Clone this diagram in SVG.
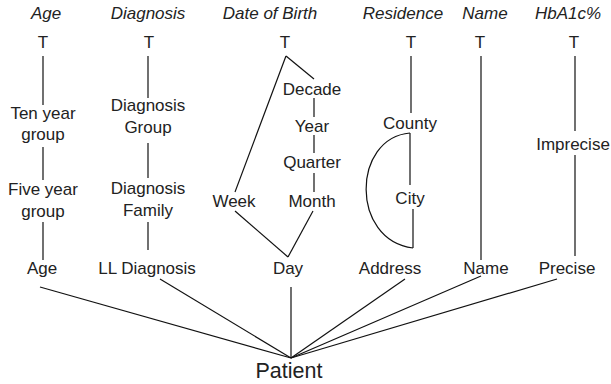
<svg xmlns="http://www.w3.org/2000/svg" width="611" height="384" viewBox="0 0 611 384">
<style>
text{font-family:"Liberation Sans",Arial,sans-serif;font-size:17px;fill:#222;text-anchor:middle}
.h{font-style:italic}
.p{font-size:21.5px}
.c line,.c path{stroke:#111;stroke-width:1.2;fill:none}
</style>
<rect width="611" height="384" fill="#fff"/>
<g id="headers">
<text class="h" x="46" y="19">Age</text>
<text class="h" x="148" y="19">Diagnosis</text>
<text class="h" x="270" y="19">Date of Birth</text>
<text class="h" x="403" y="19">Residence</text>
<text class="h" x="485" y="19">Name</text>
<text class="h" x="568" y="19">HbA1c%</text>
</g>
<g id="t-age"><text x="43" y="48">T</text></g>
<g id="t-diagnosis"><text x="149" y="48">T</text></g>
<g id="t-dob"><text x="285" y="48">T</text></g>
<g id="t-residence"><text x="411" y="48">T</text></g>
<g id="t-name"><text x="480" y="48">T</text></g>
<g id="t-hba1c"><text x="574" y="48">T</text></g>
<g id="ten-year-group"><text x="43" y="119">Ten year</text><text x="43" y="140">group</text></g>
<g id="five-year-group"><text x="43" y="195">Five year</text><text x="43" y="217">group</text></g>
<g id="age"><text x="42" y="274">Age</text></g>
<g id="diagnosis-group"><text x="148" y="111">Diagnosis</text><text x="148" y="133">Group</text></g>
<g id="diagnosis-family"><text x="148" y="194">Diagnosis</text><text x="148" y="216">Family</text></g>
<g id="ll-diagnosis"><text x="147" y="274">LL Diagnosis</text></g>
<g id="decade"><text x="312" y="95">Decade</text></g>
<g id="year"><text x="312" y="132">Year</text></g>
<g id="quarter"><text x="312" y="168">Quarter</text></g>
<g id="month"><text x="312" y="207">Month</text></g>
<g id="week"><text x="234" y="207">Week</text></g>
<g id="day"><text x="288" y="274">Day</text></g>
<g id="county"><text x="410" y="129">County</text></g>
<g id="city"><text x="410" y="204">City</text></g>
<g id="address"><text x="390" y="274">Address</text></g>
<g id="name"><text x="486" y="274">Name</text></g>
<g id="imprecise"><text x="573" y="150">Imprecise</text></g>
<g id="precise"><text x="567" y="274">Precise</text></g>
<g id="patient"><text class="p" x="289" y="378">Patient</text></g>
<g id="connectors" class="c">
<line x1="43" y1="56" x2="43" y2="105"/>
<line x1="43" y1="147" x2="43" y2="180"/>
<line x1="43" y1="222" x2="43" y2="260"/>
<line x1="148" y1="56" x2="148" y2="98"/>
<line x1="148" y1="143" x2="148" y2="178"/>
<line x1="148" y1="222" x2="148" y2="250"/>
<line x1="286" y1="56" x2="314" y2="79"/>
<line x1="286" y1="56" x2="235" y2="192"/>
<line x1="314" y1="98" x2="314" y2="117"/>
<line x1="314" y1="135" x2="314" y2="153"/>
<line x1="314" y1="173" x2="314" y2="192"/>
<line x1="235" y1="211" x2="288" y2="257"/>
<line x1="313" y1="211" x2="288" y2="257"/>
<line x1="411" y1="56" x2="411" y2="113"/>
<line x1="410" y1="133" x2="410" y2="185"/>
<line x1="413" y1="209" x2="413" y2="248"/>
<path d="M410,133 C352,138 350,240 413,248"/>
<line x1="481" y1="56" x2="481" y2="260"/>
<line x1="575" y1="56" x2="575" y2="131"/>
<line x1="575" y1="155" x2="575" y2="256"/>
<line x1="291" y1="287" x2="291" y2="358"/>
<line x1="40" y1="287" x2="291" y2="358"/>
<line x1="160" y1="279" x2="291" y2="358"/>
<line x1="405" y1="279" x2="291" y2="358"/>
<line x1="481" y1="276" x2="291" y2="358"/>
<line x1="557" y1="279" x2="291" y2="358"/>
</g>
</svg>
